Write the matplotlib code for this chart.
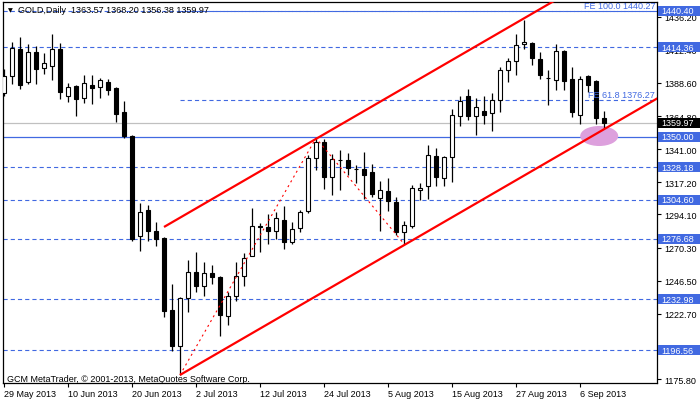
import matplotlib
matplotlib.use("Agg")
import matplotlib.pyplot as plt
from matplotlib.patches import Rectangle, Ellipse
import numpy as np

plt.rcParams['font.family'] = ['Liberation Sans', 'DejaVu Sans']
plt.rcParams['lines.scale_dashes'] = False

# ---------------- data ----------------
dates = ["29 May", "30 May", "31 May", "3 Jun", "4 Jun", "5 Jun", "6 Jun", "7 Jun",
         "10 Jun", "11 Jun", "12 Jun", "13 Jun", "14 Jun", "17 Jun", "18 Jun", "19 Jun",
         "20 Jun", "21 Jun", "24 Jun", "25 Jun", "26 Jun", "27 Jun", "28 Jun", "1 Jul",
         "2 Jul", "3 Jul", "4 Jul", "5 Jul", "8 Jul", "9 Jul", "10 Jul", "11 Jul",
         "12 Jul", "15 Jul", "16 Jul", "17 Jul", "18 Jul", "19 Jul", "22 Jul", "23 Jul",
         "24 Jul", "25 Jul", "26 Jul", "29 Jul", "30 Jul", "31 Jul", "1 Aug", "2 Aug",
         "5 Aug", "6 Aug", "7 Aug", "8 Aug", "9 Aug", "12 Aug", "13 Aug", "14 Aug",
         "15 Aug", "16 Aug", "19 Aug", "20 Aug", "21 Aug", "22 Aug", "23 Aug", "26 Aug",
         "27 Aug", "28 Aug", "29 Aug", "30 Aug", "2 Sep", "3 Sep", "4 Sep", "5 Sep",
         "6 Sep", "9 Sep", "10 Sep", "11 Sep"]

opens = [1381.4, 1393.4, 1413.0, 1389.1, 1410.7, 1399.2, 1401.0, 1413.0,
         1379.0, 1386.2, 1377.6, 1387.4, 1385.5, 1389.1, 1385.0, 1367.5,
         1350.7, 1278.8, 1297.3, 1282.0, 1277.2, 1225.4, 1199.7, 1233.8,
         1252.5, 1242.9, 1252.0, 1248.9, 1221.3, 1235.7, 1249.6, 1264.4,
         1285.9, 1285.4, 1282.0, 1290.1, 1274.1, 1284.2, 1296.8, 1334.5,
         1346.4, 1320.8, 1333.5, 1333.3, 1327.0, 1326.8, 1324.4, 1305.7,
         1310.7, 1302.8, 1281.3, 1286.0, 1311.9, 1314.2, 1336.1, 1320.1,
         1335.2, 1364.7, 1379.0, 1364.7, 1368.3, 1366.8, 1376.4, 1397.9,
         1404.2, 1416.6, 1417.4, 1405.9, 1392.4, 1391.0, 1411.4, 1391.5,
         1365.8, 1393.4, 1390.3, 1363.57]
highs = [1398.7, 1417.9, 1421.5, 1416.6, 1415.0, 1410.0, 1423.8, 1417.4,
         1388.4, 1387.2, 1394.4, 1394.4, 1392.0, 1391.5, 1385.5, 1375.9,
         1351.2, 1302.3, 1300.9, 1288.9, 1278.1, 1244.1, 1234.5, 1261.4,
         1266.9, 1259.7, 1257.8, 1250.1, 1238.6, 1259.7, 1266.4, 1298.5,
         1288.0, 1294.4, 1295.6, 1300.4, 1288.9, 1297.3, 1337.1, 1349.0,
         1348.3, 1337.6, 1340.4, 1338.3, 1329.7, 1339.2, 1330.4, 1318.4,
         1320.1, 1306.4, 1289.6, 1315.3, 1316.7, 1344.0, 1341.9, 1336.3,
         1369.9, 1379.0, 1384.3, 1377.6, 1379.0, 1381.4, 1399.9, 1406.4,
         1423.8, 1434.1, 1418.3, 1410.7, 1397.9, 1416.6, 1412.5, 1399.9,
         1393.4, 1394.4, 1390.8, 1368.20]
lows = [1379.3, 1387.9, 1384.3, 1387.9, 1387.9, 1395.1, 1390.8, 1377.1,
        1375.2, 1365.1, 1374.2, 1373.5, 1377.8, 1380.0, 1360.8, 1348.8,
        1275.2, 1268.0, 1275.2, 1271.2, 1220.6, 1195.7, 1178.7, 1224.3,
        1238.1, 1235.7, 1244.1, 1207.0, 1214.6, 1232.1, 1242.9, 1264.0,
        1267.3, 1272.9, 1276.4, 1269.3, 1272.9, 1281.7, 1295.1, 1326.1,
        1312.4, 1308.1, 1311.9, 1322.5, 1316.7, 1305.2, 1306.4, 1282.4,
        1296.8, 1279.3, 1272.9, 1284.1, 1304.5, 1305.2, 1314.8, 1314.8,
        1317.6, 1357.5, 1362.2, 1351.2, 1359.1, 1354.3, 1368.0, 1389.1,
        1394.6, 1412.8, 1401.5, 1391.5, 1373.0, 1383.8, 1383.8, 1364.4,
        1359.1, 1381.9, 1359.1, 1356.38]
closes = [1393.6, 1413.5, 1387.4, 1410.7, 1398.7, 1402.8, 1413.0, 1382.3,
          1386.0, 1377.1, 1388.4, 1385.0, 1390.5, 1383.8, 1366.3, 1350.7,
          1276.4, 1295.6, 1282.0, 1276.4, 1224.5, 1199.7, 1234.0, 1252.5,
          1242.4, 1252.0, 1248.9, 1222.0, 1235.7, 1250.1, 1262.6, 1285.6,
          1285.0, 1282.4, 1291.5, 1274.1, 1283.6, 1295.7, 1334.7, 1346.4,
          1321.2, 1334.0, 1333.1, 1327.3, 1326.6, 1322.7, 1308.8, 1311.7,
          1303.6, 1281.7, 1286.7, 1312.9, 1313.1, 1336.6, 1320.8, 1335.2,
          1365.8, 1375.9, 1365.1, 1371.1, 1365.8, 1376.4, 1397.9, 1404.6,
          1415.9, 1418.3, 1406.6, 1394.6, 1392.0, 1411.8, 1390.3, 1367.5,
          1391.5, 1387.2, 1363.4, 1359.97]

date_tick_idx = [0, 8, 16, 24, 32, 40, 48, 56, 64, 72]
date_tick_labels = ["29 May 2013", "10 Jun 2013", "20 Jun 2013", "2 Jul 2013",
                    "12 Jul 2013", "24 Jul 2013", "5 Aug 2013", "15 Aug 2013",
                    "27 Aug 2013", "6 Sep 2013"]
price_ticks = [1436.20, 1412.40, 1388.60, 1364.80, 1341.00, 1317.20, 1294.10,
               1270.30, 1246.50, 1222.70, 1198.90, 1175.80]

dashed_levels = [1440.40, 1414.36, 1328.18, 1304.60, 1276.68, 1232.98, 1196.56]
solid_level = 1350.00
bid_price = 1359.97
fe_levels = [1440.27, 1376.27]
fe_names = ["FE 100.0", "FE 61.8"]

# channel: lower through 28 Jun low, upper parallel starting at 26 Jun
ch_lower_start = (22, 1178.7)
ch_upper_start = (20, 1285.1)
ch_slope = 3.333  # price per bar
# fibo expansion points (dotted)
fe_points_x = [22, 39, 50]
fe_points_y = [1178.7, 1349.0, 1272.9]

header = "GOLD,Daily  1363.57 1368.20 1356.38 1359.97"
copyright_txt = "GCM MetaTrader, \u00a9 2001-2013, MetaQuotes Software Corp."

BLUE = '#4169E1'

# ---------------- figure ----------------
W, H = 700, 402
fig = plt.figure(figsize=(W / 100, H / 100), dpi=100)
fig.patch.set_facecolor('white')
ax = fig.add_axes([3 / W, 18 / H, 654 / W, 381 / H])
ax.set_facecolor('white')

n = len(opens)
x = np.arange(n)
ax.set_xlim(-0.125, 81.625)
ax.set_ylim(1172.93, 1446.83)

# horizontal lines
for lv in dashed_levels:
    ax.axhline(lv, color=BLUE, lw=0.8, dashes=(3, 2.2), zorder=1)
ax.axhline(solid_level, color=BLUE, lw=0.9, zorder=1)
ax.axhline(bid_price, color='#C0C0C0', lw=0.9, zorder=1)
for lv in fe_levels:
    ax.plot([fe_points_x[0], 90], [lv, lv], color=BLUE, lw=0.8, dashes=(3, 2.2), zorder=1)

# ellipse highlight
ax.add_patch(Ellipse((74.4, 1350.5), 4.75, 14.4, facecolor='#DDA0DD', edgecolor='none', zorder=2))

# candles
o = np.array(opens); c = np.array(closes); h = np.array(highs); l = np.array(lows)
ax.vlines(x, l, h, color='black', lw=0.9, zorder=3)
bull = c >= o
body_lo = np.minimum(o, c)
body_h = np.maximum(np.abs(c - o), 0.35)
ax.bar(x[bull], body_h[bull], bottom=body_lo[bull], width=0.55, color='white',
       edgecolor='black', linewidth=0.8, zorder=4)
ax.bar(x[~bull], body_h[~bull], bottom=body_lo[~bull], width=0.55, color='black',
       edgecolor='black', linewidth=0.8, zorder=4)

# channel lines
xe = np.array([ch_lower_start[0], 95])
ax.plot(xe, ch_lower_start[1] + ch_slope * (xe - ch_lower_start[0]), color='red', lw=1.6,
        zorder=6, solid_capstyle='butt')
xe2 = np.array([ch_upper_start[0], 95])
ax.plot(xe2, ch_upper_start[1] + ch_slope * (xe2 - ch_upper_start[0]), color='red', lw=1.6,
        zorder=6, solid_capstyle='butt')
# dotted fibo expansion lines
ax.plot(fe_points_x, fe_points_y, color='red', lw=0.8, dashes=(1.5, 2.5), zorder=5)

# spines
for s in ax.spines.values():
    s.set_color('black')
    s.set_linewidth(0.9)

# ticks
ax.yaxis.tick_right()
ax.set_yticks(price_ticks)
ax.set_yticklabels(["%.2f" % p for p in price_ticks])
ax.set_xticks(date_tick_idx)
ax.set_xticklabels(date_tick_labels)
for lab in ax.get_xticklabels():
    lab.set_horizontalalignment('left')
ax.tick_params(axis='both', direction='out', length=3, width=0.8, colors='black',
               labelsize=6.5, pad=2)
ax.tick_params(axis='x', pad=1.5)

# highlighted price labels on the right
ytr = ax.get_yaxis_transform()
px_per_price = (H * 381 / H) / (1446.83 - 1172.93)
half = 5.0 / px_per_price
ax_w = 654.0
def add_label(price, fc):
    ax.add_patch(Rectangle(((658 - 3) / ax_w, price - half), (700 - 658) / ax_w, 2 * half,
                           transform=ytr, facecolor=fc, edgecolor='none', clip_on=False, zorder=10))
    ax.text((661 - 3) / ax_w, price, "%.2f" % price, transform=ytr, color='white', fontsize=6.5,
            va='center', ha='left', clip_on=False, zorder=11)
for lv in dashed_levels + [solid_level]:
    add_label(lv, BLUE)
add_label(bid_price, 'black')

# texts
ax.text((8 - 3) / ax_w, 1440.9, "\u25bc", transform=ytr, fontsize=4.5, color='black',
        va='center', ha='left', family='DejaVu Sans', zorder=12)
ax.text((18 - 3) / ax_w, 1441.2, header, transform=ytr, fontsize=6.5, color='black',
        va='center', ha='left', zorder=12)
for lv, nm in zip(fe_levels, fe_names):
    ax.text((655 - 3) / ax_w, lv + 0.6, "%s %.2f" % (nm, lv), transform=ytr, fontsize=6.5,
            color=BLUE, va='bottom', ha='right', zorder=12)
ax.text((7 - 3) / ax_w, 1176.5, copyright_txt, transform=ytr, fontsize=6.5, color='black',
        va='center', ha='left', zorder=12)

fig.savefig("out.png", dpi=100)
